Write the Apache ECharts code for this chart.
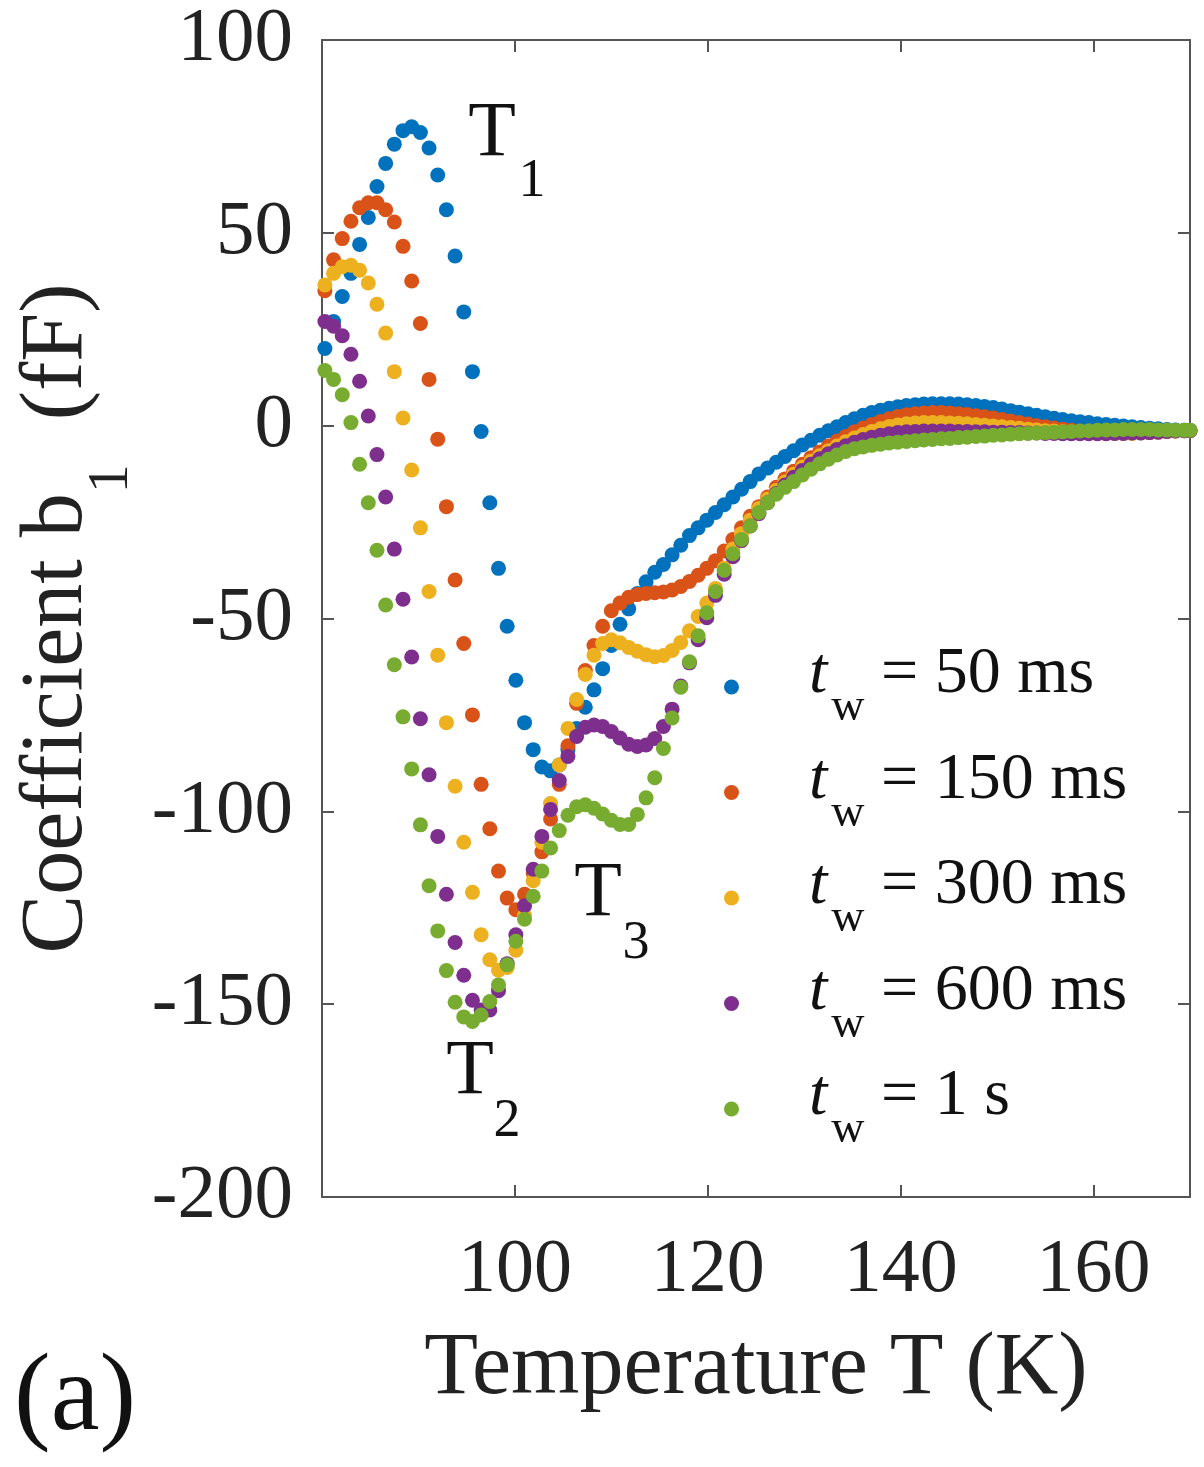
<!DOCTYPE html>
<html><head><meta charset="utf-8">
<script src="https://cdn.jsdelivr.net/npm/echarts@6/dist/echarts.min.js"></script>
<style>html,body{margin:0;padding:0;background:#fff}#c{width:1204px;height:1467px}</style>
</head><body><div id="c"></div>
<script>
const temperature = [80.3, 81.2, 82.1, 83.0, 83.9, 84.8, 85.7, 86.6, 87.5, 88.4,
89.3, 90.2, 91.1, 92.0, 92.9, 93.8, 94.7, 95.6, 96.5, 97.4,
98.3, 99.2, 100.1, 101.0, 101.9, 102.8, 103.7, 104.6, 105.5, 106.4,
107.3, 108.2, 109.1, 110.0, 110.9, 111.8, 112.7, 113.6, 114.5, 115.4,
116.3, 117.2, 118.1, 119.0, 119.9, 120.8, 121.7, 122.6, 123.5, 124.4,
125.3, 126.2, 127.1, 128.0, 128.9, 129.8, 130.7, 131.6, 132.5, 133.4,
134.3, 135.2, 136.1, 137.0, 137.9, 138.8, 139.7, 140.6, 141.5, 142.4,
143.3, 144.2, 145.1, 146.0, 146.9, 147.8, 148.7, 149.6, 150.5, 151.4,
152.3, 153.2, 154.1, 155.0, 155.9, 156.8, 157.7, 158.6, 159.5, 160.4,
161.3, 162.2, 163.1, 164.0, 164.9, 165.8, 166.7, 167.6, 168.5, 169.4, 170.0];

const tw50ms = [20, 27, 33.5, 39.5, 47, 54, 62, 68, 73, 76.5,
77.5, 76, 72, 65, 56, 44, 29.5, 14, -1.5, -20,
-37, -52, -66, -77, -84, -88.5, -89.5, -88, -84, -78.5,
-73, -68.5, -63, -57, -51.5, -47.5, -43.5, -40.5, -38, -36,
-33.5, -31, -28.5, -26.5, -24.5, -22.5, -20.5, -18.5, -16.5, -14.5,
-12.5, -11, -9.5, -8, -6.5, -5, -3.8, -2.5, -1.3, -0.3,
0.8, 1.8, 2.7, 3.4, 4, 4.5, 4.9, 5.2, 5.4, 5.6,
5.7, 5.7, 5.7, 5.6, 5.4, 5.2, 5, 4.7, 4.3, 3.9,
3.5, 3.1, 2.7, 2.3, 1.9, 1.6, 1.3, 1, 0.8, 0.5,
0.3, 0.1, -0.1, -0.3, -0.5, -0.7, -0.8, -1, -1.1, -1.2, -1.2];

const tw150ms = [35, 43, 48.5, 53, 56.5, 57.8, 57.8, 56, 52.8, 46.5,
37.5, 26.5, 12, -3.5, -21, -40, -56.5, -75, -93, -104.5,
-115.5, -122.5, -125.5, -121.5, -116, -110.5, -102, -93, -83, -72,
-63.5, -57, -52, -48, -46, -44.5, -43.8, -43.5, -43.3, -43.1,
-42.6, -41.7, -40.4, -38.8, -37, -35, -32.5, -29.5, -26.5, -23.5,
-21, -18.5, -16, -13.8, -11.8, -10, -8.3, -6.8, -5.3, -4,
-2.8, -1.6, -0.6, 0.3, 1.1, 1.8, 2.4, 2.8, 3.1, 3.3,
3.4, 3.4, 3.3, 3.1, 2.9, 2.6, 2.3, 2, 1.6, 1.2,
0.8, 0.4, 0, -0.3, -0.6, -0.9, -1.2, -1.4, -1.6, -1.7,
-1.8, -1.9, -1.9, -1.9, -1.8, -1.7, -1.6, -1.5, -1.4, -1.3, -1.3];

const tw300ms = [36.5, 39.5, 41.2, 41.6, 40.3, 37, 31.5, 24, 14, 2,
-11.5, -26.5, -43, -59.5, -77, -93.5, -108, -121, -132, -138.5,
-141.2, -140.5, -136, -127, -118, -108, -98, -88, -78.5, -71,
-64.5, -59.5, -56.5, -55.5, -56.3, -57.5, -58.5, -59.4, -59.9, -59.6,
-58.3, -56.2, -53.2, -49.5, -46, -42.2, -37, -32, -28, -24.5,
-21.5, -19, -16.8, -14.6, -12.6, -10.8, -9.2, -7.8, -6.5, -5.3,
-4.2, -3.2, -2.3, -1.5, -0.8, -0.2, 0.2, 0.5, 0.7, 0.8,
0.8, 0.8, 0.7, 0.6, 0.5, 0.3, 0.1, -0.1, -0.3, -0.5,
-0.7, -0.9, -1.1, -1.3, -1.4, -1.6, -1.7, -1.8, -1.9, -2,
-2, -2, -2, -2, -1.9, -1.8, -1.7, -1.5, -1.4, -1.3, -1.3];

const tw600ms = [27, 25.8, 23.3, 18.5, 11.5, 2.5, -7.5, -18.5, -32, -45,
-60, -76, -90.5, -106.5, -121.5, -134, -142.5, -149, -151.5, -151.5,
-146.5, -139.5, -132, -124.5, -115, -106.5, -99.5, -92, -85.8, -80.6,
-78.2, -77.6, -78, -79.3, -81, -82.6, -83.2, -82.8, -81.1, -78,
-73.5, -67.5, -61.5, -55.5, -49.8, -44, -38.5, -34, -29.8, -26,
-22.8, -20, -17.6, -15.4, -13.4, -11.6, -10, -8.6, -7.3, -6.2,
-5.2, -4.3, -3.6, -3, -2.5, -2.1, -1.8, -1.6, -1.5, -1.4,
-1.4, -1.4, -1.4, -1.5, -1.5, -1.6, -1.6, -1.7, -1.7, -1.8,
-1.8, -1.9, -1.9, -2, -2, -2.1, -2.1, -2.1, -2.1, -2.1,
-2.1, -2, -2, -1.9, -1.9, -1.8, -1.7, -1.5, -1.4, -1.3, -1.3];

const tw1s = [14.3, 12, 8, 0.8, -10, -20, -32.3, -46.5, -62, -75.5,
-89, -103.5, -119.3, -131, -141.3, -149.5, -153.3, -154.5, -152.8, -149.3,
-145, -139.8, -133.7, -128, -122, -115.5, -109.5, -105, -101, -98.8,
-98.3, -99.2, -100.7, -102.3, -103.4, -103.4, -100.8, -96.5, -91.3, -83.7,
-75.8, -67.8, -61.2, -54.5, -48.5, -43, -37.5, -33.2, -29.5, -26,
-22.5, -20, -17.8, -16, -14.5, -12.8, -11.3, -9.9, -8.7, -7.6,
-6.7, -6, -5.5, -5.1, -4.8, -4.5, -4.3, -4.1, -3.9, -3.7,
-3.6, -3.4, -3.3, -3.1, -3, -2.8, -2.7, -2.5, -2.4, -2.2,
-2.1, -2, -1.9, -1.8, -1.7, -1.6, -1.5, -1.4, -1.3, -1.2,
-1.1, -1.1, -1, -1, -1, -1, -1.1, -1.1, -1.2, -1.2, -1.2];

const waitLabels = ['50 ms', '150 ms', '300 ms', '600 ms', '1 s'];
const seriesValues = [tw50ms, tw150ms, tw300ms, tw600ms, tw1s];
const seriesColors = ['#0072BD', '#D95319', '#EDB120', '#7E2F8E', '#77AC30'];
const xTickLabels = [100, 120, 140, 160];
const yTickLabels = [-200, -150, -100, -50, 0, 50, 100];

const FF = '"Liberation Serif", "Times New Roman", serif';
const axisGray = '#555555';
const textDark = '#222222';

const chart = echarts.init(document.getElementById('c'), null, {renderer: 'canvas'});

const commonLine = {show: true, onZero: false, lineStyle: {color: axisGray, width: 2}};
const commonTick = {show: true, inside: true, length: 12, lineStyle: {color: axisGray, width: 2}};

const series = seriesValues.map((vals, k) => ({
  name: 't_w = ' + waitLabels[k],
  type: 'scatter',
  symbol: 'circle',
  symbolSize: 15,
  itemStyle: {color: seriesColors[k], opacity: 1},
  emphasis: {disabled: true},
  data: temperature.map((t, i) => [t, vals[i]]),
  xAxisIndex: 0, yAxisIndex: 0,
  z: 2 + k
}));

const option = {
  animation: false,
  backgroundColor: '#ffffff',
  grid: {left: 322, right: 14, top: 40, bottom: 270, containLabel: false},
  xAxis: [{
    type: 'value', min: 80, max: 170, interval: 20, position: 'bottom',
    axisLine: commonLine, axisTick: commonTick, splitLine: {show: false},
    axisLabel: {margin: 36, fontSize: 76, fontFamily: FF, color: textDark,
      formatter: v => xTickLabels.includes(v) ? String(v) : ''},
    name: 'Temperature T (K)', nameLocation: 'middle', nameGap: 129,
    nameTextStyle: {fontSize: 88, lineHeight: 88, fontFamily: FF, color: textDark}
  }, {
    type: 'value', min: 80, max: 170, interval: 20, position: 'top',
    axisLine: commonLine, axisTick: commonTick, splitLine: {show: false},
    axisLabel: {show: false}
  }],
  yAxis: [{
    type: 'value', min: -200, max: 100, interval: 50, position: 'left',
    axisLine: commonLine, axisTick: commonTick, splitLine: {show: false},
    axisLabel: {margin: 29, fontSize: 77, fontFamily: FF, color: textDark,
      formatter: v => yTickLabels.includes(v) ? String(v) : ''},
    name: '{a|Coefficient b}{s|1}{a|  (fF)}', nameLocation: 'middle', nameGap: 187,
    nameTextStyle: {
      rich: {
        a: {fontSize: 88, lineHeight: 88, fontFamily: FF, color: textDark, verticalAlign: 'top'},
        s: {fontSize: 58, lineHeight: 58, fontFamily: FF, color: textDark, verticalAlign: 'top', padding: [69, 0, 0, 0]}
      }
    }
  }, {
    type: 'value', min: -200, max: 100, interval: 50, position: 'right',
    axisLine: commonLine, axisTick: commonTick, splitLine: {show: false},
    axisLabel: {show: false}
  }],
  legend: {
    orient: 'vertical', left: 724, top: 642, padding: 0, itemGap: 16.5,
    itemWidth: 15, itemHeight: 15, icon: 'circle', selectedMode: false,
    data: series.map(s => s.name),
    formatter: name => {
      const k = series.findIndex(s => s.name === name);
      return '{sp|\u200b}{t|t}{w|w}{r| = ' + waitLabels[k] + '}';
    },
    textStyle: {
      rich: {
        sp: {fontSize: 10, lineHeight: 90, verticalAlign: 'top'},
        t: {fontSize: 66, lineHeight: 66, fontFamily: FF, fontStyle: 'italic', color: '#111', verticalAlign: 'top', padding: [0, 4, 0, 65]},
        w: {fontSize: 46, lineHeight: 46, fontFamily: FF, color: '#111', verticalAlign: 'top', padding: [43, 0, 0, 0]},
        r: {fontSize: 66, lineHeight: 66, fontFamily: FF, color: '#111', verticalAlign: 'top'}
      }
    }
  },
  graphic: [
    {type: 'text', x: 492, y: 135, style: {text: 'T', font: '78px ' + FF, fill: '#111', align: 'center', verticalAlign: 'middle'}},
    {type: 'text', x: 532, y: 182, style: {text: '1', font: '54px ' + FF, fill: '#111', align: 'center', verticalAlign: 'middle'}},
    {type: 'text', x: 470, y: 1073, style: {text: 'T', font: '78px ' + FF, fill: '#111', align: 'center', verticalAlign: 'middle'}},
    {type: 'text', x: 507, y: 1122, style: {text: '2', font: '54px ' + FF, fill: '#111', align: 'center', verticalAlign: 'middle'}},
    {type: 'text', x: 598, y: 895, style: {text: 'T', font: '78px ' + FF, fill: '#111', align: 'center', verticalAlign: 'middle'}},
    {type: 'text', x: 636, y: 944, style: {text: '3', font: '54px ' + FF, fill: '#111', align: 'center', verticalAlign: 'middle'}},
    {type: 'text', x: 14, y: 1400, style: {text: '(a)', font: '110px ' + FF, fill: '#111', align: 'left', verticalAlign: 'middle'}}
  ],
  series: series
};
chart.setOption(option);
</script></body></html>
